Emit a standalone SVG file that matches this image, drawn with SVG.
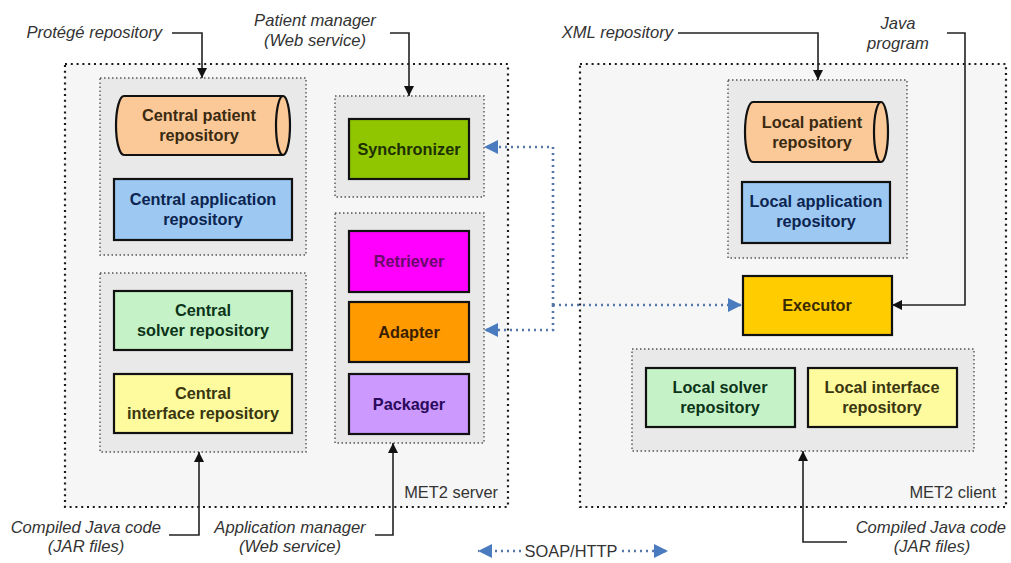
<svg xmlns="http://www.w3.org/2000/svg" width="1011" height="563" viewBox="0 0 1011 563">
<style>
.outer{fill:#f6f6f6;stroke:#1a1a1a;stroke-width:2.2;stroke-dasharray:2 3.8}
.grp{fill:#e9e9e9;stroke:#555;stroke-width:1.4;stroke-dasharray:1.5 2.5}
.node{stroke:#111;stroke-width:2.2}
.lbl{font-family:"Liberation Sans",Arial,sans-serif;font-size:16.3px;font-weight:bold;text-anchor:middle}
.it{font-family:"Liberation Sans",Arial,sans-serif;font-size:16.6px;font-style:italic;fill:#333}
.plain{font-family:"Liberation Sans",Arial,sans-serif;font-size:16.4px;fill:#333}
.blk{fill:none;stroke:#222;stroke-width:1.6}
.blue{fill:none;stroke:#5577aa;stroke-width:2.6;stroke-dasharray:2 4}
</style>
<defs>
<marker id="ab" markerUnits="userSpaceOnUse" markerWidth="10" markerHeight="10" refX="10" refY="5" orient="auto"><path d="M0,0 L10,5 L0,10 z" fill="#111"/></marker>
<marker id="abl" markerUnits="userSpaceOnUse" markerWidth="14" markerHeight="14" refX="14" refY="7" orient="auto"><path d="M0,0 L14,7 L0,14 z" fill="#4a7bbf"/></marker>
</defs>
<rect width="1011" height="563" fill="#fff"/>

<g id="met2-server">
<rect class="outer" x="65" y="64" width="443" height="443"/>
<text class="plain" x="498" y="498" text-anchor="end">MET2 server</text>
</g>
<g id="met2-client">
<rect class="outer" x="580" y="64" width="426" height="443"/>
<text class="plain" x="996" y="498" text-anchor="end">MET2 client</text>
</g>

<g id="central-repos-group"><rect class="grp" x="100" y="78" width="206" height="177"/></g>
<g id="central-code-group"><rect class="grp" x="100" y="273" width="206" height="179"/></g>
<g id="sync-group"><rect class="grp" x="335" y="96" width="149" height="101"/></g>
<g id="appmgr-group"><rect class="grp" x="335" y="213" width="149" height="230"/></g>
<g id="local-repos-group"><rect class="grp" x="728" y="80" width="179" height="178"/></g>
<g id="local-code-group"><rect class="grp" x="632" y="349" width="342" height="102"/></g>

<g id="central-patient-repository">
<path class="node" fill="#fbc898" d="M124,96 H283 A7,29.5 0 0 1 283,155 H124 A8,29.5 0 0 1 124,96 Z"/>
<path fill="none" stroke="#111" stroke-width="2.2" d="M283,96 A7,29.5 0 0 0 283,155"/>
<text class="lbl" fill="#3a2a10"><tspan x="199" y="121">Central patient</tspan><tspan x="199" y="141">repository</tspan></text>
</g>
<g id="central-application-repository">
<rect class="node" x="114" y="179" width="178" height="61" fill="#9cc8f2"/>
<text class="lbl" fill="#0c2450"><tspan x="203" y="205">Central application</tspan><tspan x="203" y="225">repository</tspan></text>
</g>
<g id="central-solver-repository">
<rect class="node" x="114" y="291" width="178" height="59" fill="#c6f2c8"/>
<text class="lbl" fill="#0c3418"><tspan x="203" y="316">Central</tspan><tspan x="203" y="336">solver repository</tspan></text>
</g>
<g id="central-interface-repository">
<rect class="node" x="114" y="374" width="178" height="59" fill="#fdfb9e"/>
<text class="lbl" fill="#3a3610"><tspan x="203" y="399">Central</tspan><tspan x="203" y="419">interface repository</tspan></text>
</g>

<g id="synchronizer">
<rect class="node" x="349" y="119" width="120" height="60" fill="#8fc600"/>
<text class="lbl" fill="#1e3000" x="409" y="155">Synchronizer</text>
</g>
<g id="retriever">
<rect class="node" x="349" y="231" width="120" height="61" fill="#ff00ff"/>
<text class="lbl" fill="#6a0a6a" x="409" y="267">Retriever</text>
</g>
<g id="adapter">
<rect class="node" x="349" y="302" width="120" height="60" fill="#ff9a00"/>
<text class="lbl" fill="#3a1e00" x="409" y="338">Adapter</text>
</g>
<g id="packager">
<rect class="node" x="349" y="374" width="120" height="60" fill="#cc99ff"/>
<text class="lbl" fill="#2a0a5a" x="409" y="410">Packager</text>
</g>

<g id="local-patient-repository">
<path class="node" fill="#fbc898" d="M753,102 H881 A7,30 0 0 1 881,162 H753 A8,30 0 0 1 753,102 Z"/>
<path fill="none" stroke="#111" stroke-width="2.2" d="M881,102 A7,30 0 0 0 881,162"/>
<text class="lbl" fill="#3a2a10"><tspan x="812" y="128">Local patient</tspan><tspan x="812" y="148">repository</tspan></text>
</g>
<g id="local-application-repository">
<rect class="node" x="742" y="182" width="148" height="61" fill="#9cc8f2"/>
<text class="lbl" fill="#0c2450"><tspan x="816" y="207">Local application</tspan><tspan x="816" y="227">repository</tspan></text>
</g>
<g id="executor">
<rect class="node" x="743" y="276" width="149" height="59" fill="#ffcc00"/>
<text class="lbl" fill="#3a2a00" x="817" y="311">Executor</text>
</g>
<g id="local-solver-repository">
<rect class="node" x="646" y="368" width="149" height="59" fill="#c6f2c8"/>
<text class="lbl" fill="#0c3418"><tspan x="720" y="393">Local solver</tspan><tspan x="720" y="413">repository</tspan></text>
</g>
<g id="local-interface-repository">
<rect class="node" x="808" y="368" width="149" height="59" fill="#fdfb9e"/>
<text class="lbl" fill="#3a3610"><tspan x="882" y="393">Local interface</tspan><tspan x="882" y="413">repository</tspan></text>
</g>

<g id="labels">
<text class="it" x="162" y="38" text-anchor="end">Protégé repository</text>
<text class="it" text-anchor="middle"><tspan x="315" y="26">Patient manager</tspan><tspan x="315" y="46">(Web service)</tspan></text>
<text class="it" text-anchor="end" x="161" y="533">Compiled Java code</text>
<text class="it" text-anchor="middle" x="86" y="552">(JAR files)</text>
<text class="it" text-anchor="middle"><tspan x="290" y="533">Application manager</tspan><tspan x="290" y="552">(Web service)</tspan></text>
<text class="it" x="673" y="38" text-anchor="end">XML repository</text>
<text class="it" text-anchor="middle"><tspan x="898" y="29">Java</tspan><tspan x="898" y="49">program</tspan></text>
<text class="it" text-anchor="end" x="1006" y="533">Compiled Java code</text>
<text class="it" text-anchor="middle" x="932" y="552">(JAR files)</text>
<text class="plain" x="571" y="557" text-anchor="middle">SOAP/HTTP</text>
</g>

<g id="connectors">
<path class="blk" d="M172,33 H202 V78" marker-end="url(#ab)"/>
<path class="blk" d="M390,33 H409 V96" marker-end="url(#ab)"/>
<path class="blk" d="M169,535 H199 V452" marker-end="url(#ab)"/>
<path class="blk" d="M375,535 H393 V443" marker-end="url(#ab)"/>
<path class="blk" d="M678,33 H818 V80" marker-end="url(#ab)"/>
<path class="blk" d="M947,33 H965 V305 H892" marker-end="url(#ab)"/>
<path class="blk" d="M847,542 H803 V451" marker-end="url(#ab)"/>
<path class="blue" d="M553,305 V147 H484" marker-end="url(#abl)"/>
<path class="blue" d="M553,305 V330 H484" marker-end="url(#abl)"/>
<path class="blue" d="M553,305 H742" marker-end="url(#abl)"/>
<path class="blue" d="M521,551 H478" marker-end="url(#abl)"/>
<path class="blue" d="M622,551 H668" marker-end="url(#abl)"/>
</g>
</svg>
